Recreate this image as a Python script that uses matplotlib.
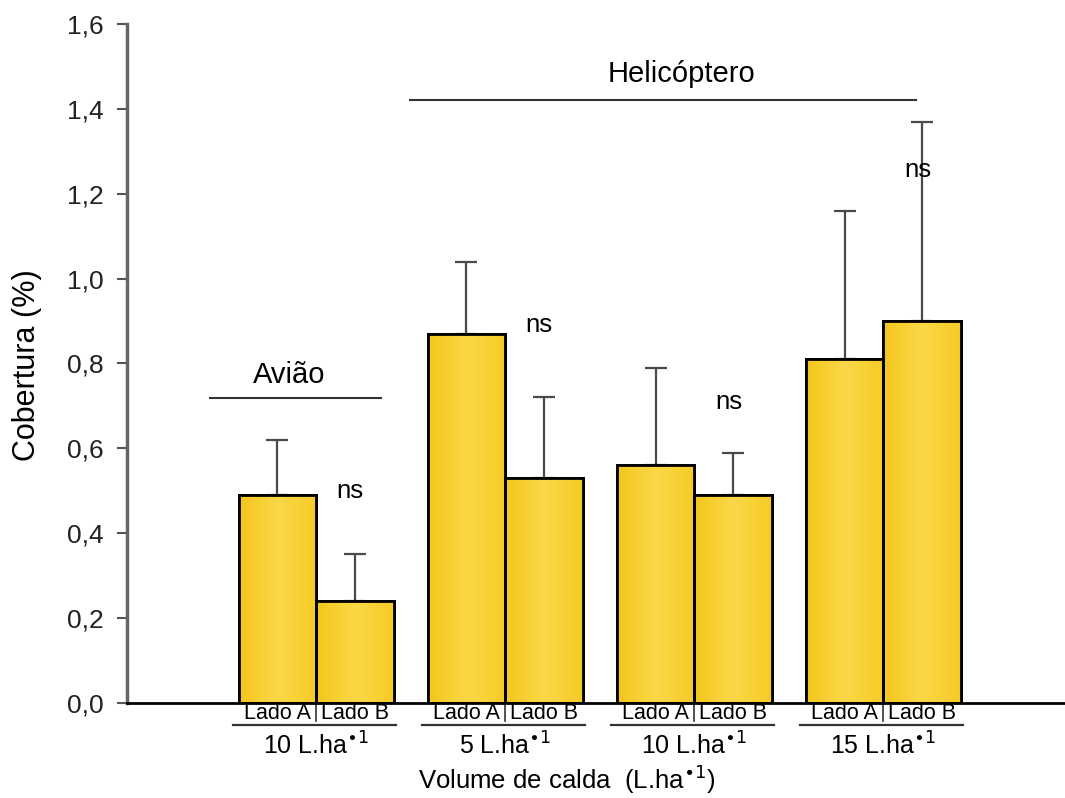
import matplotlib
matplotlib.use("Agg")
import matplotlib.pyplot as plt
import numpy as np
from matplotlib.colors import LinearSegmentedColormap
from matplotlib import font_manager

plt.rcParams['font.family'] = ['Liberation Sans', 'DejaVu Sans']

# treatment groups and sides
doses = [r'10 L.ha$^{\bullet 1}$', r'5 L.ha$^{\bullet 1}$', r'10 L.ha$^{\bullet 1}$', r'15 L.ha$^{\bullet 1}$']
sides = ['Lado A', 'Lado B']

# mean coverage (%) per group, side A then side B
lado_a = [0.49, 0.87, 0.56, 0.81]
lado_b = [0.24, 0.53, 0.49, 0.90]
# upper end of the error bars
top_a = [0.62, 1.04, 0.79, 1.16]
top_b = [0.35, 0.72, 0.59, 1.37]

ns_y = [0.50, 0.89, 0.71, 1.255]

# narrow face for the side labels if available
names = {f.name for f in font_manager.fontManager.ttflist}
if 'Liberation Sans Narrow' in names:
    side_font, side_size = 'Liberation Sans Narrow', 17.5
else:
    side_font, side_size = 'Liberation Sans', 15.5

fig = plt.figure(figsize=(10.65, 7.98), dpi=100)
ax = fig.add_axes([0.1193, 0.119, 0.8807, 0.851])

x = np.arange(len(doses))
w = 0.41
xa = x - w / 2
xb = x + w / 2

err_a = [np.zeros(4), np.array(top_a) - np.array(lado_a)]
err_b = [np.zeros(4), np.array(top_b) - np.array(lado_b)]
ax.errorbar(xa, lado_a, yerr=err_a, fmt='none', ecolor='#4a4a4a', elinewidth=1.6,
            capsize=8, capthick=1.6, zorder=1)
ax.errorbar(xb, lado_b, yerr=err_b, fmt='none', ecolor='#4a4a4a', elinewidth=1.6,
            capsize=8, capthick=1.6, zorder=1)
bars = list(ax.bar(xa, lado_a, width=w, color='#F8CF2C', edgecolor='black', linewidth=2, zorder=2))
bars += list(ax.bar(xb, lado_b, width=w, color='#F8CF2C', edgecolor='black', linewidth=2, zorder=2))

# soft yellow shading inside each bar
shade = LinearSegmentedColormap.from_list('shade', ['#F4C61C', '#FBD848', '#F6CB26'])
grad = np.linspace(0, 1, 64).reshape(1, -1)
for b in bars:
    x0, y0 = b.get_x(), b.get_y()
    im = ax.imshow(grad, cmap=shade, aspect='auto', zorder=2.5,
                   extent=[x0, x0 + b.get_width(), y0, y0 + b.get_height()])
    im.set_clip_path(b)
    edge = plt.Rectangle((x0, y0), b.get_width(), b.get_height(), fill=False,
                         edgecolor='black', linewidth=2, zorder=3)
    ax.add_patch(edge)

ax.set_xlim(-1.0, 3.96)
ax.set_ylim(0, 1.6)
ax.set_yticks(np.arange(0, 1.61, 0.2))
ax.set_yticklabels([f'{v:.1f}'.replace('.', ',') for v in np.arange(0, 1.61, 0.2)],
                   fontsize=19, color='#222222')
ax.set_xticks([])
ax.tick_params(axis='y', direction='out', length=7, width=1.5, color='#555555', pad=10)

for s in ['top', 'right']:
    ax.spines[s].set_visible(False)
ax.spines['left'].set_color('#666666')
ax.spines['left'].set_linewidth(2.5)
ax.spines['bottom'].set_color('black')
ax.spines['bottom'].set_linewidth(2)
ax.spines['bottom'].set_zorder(4)

# side labels, separators and dose labels under each group
for i in range(len(doses)):
    ax.text(xa[i], -0.024, sides[0], ha='center', va='center', fontsize=side_size,
            family=side_font, clip_on=False)
    ax.text(xb[i], -0.024, sides[1], ha='center', va='center', fontsize=side_size,
            family=side_font, clip_on=False)
    ax.plot([x[i], x[i]], [-0.003, -0.042], color='#333333', lw=1.2, clip_on=False)
    ax.plot([x[i] - 0.44, x[i] + 0.42], [-0.052, -0.052], color='#333333', lw=1.6, clip_on=False)
    ax.text(x[i], -0.101, doses[i], ha='center', va='center', fontsize=18, clip_on=False)

for i in range(len(doses)):
    ax.text(x[i] + 0.18, ns_y[i], 'ns', ha='center', va='center', fontsize=18.5)

# aircraft group headers
ax.plot([-0.56, 0.344], [0.718, 0.718], color='#333333', lw=1.5)
ax.text(-0.14, 0.772, 'Avião', ha='center', va='center', fontsize=21)
ax.plot([0.497, 3.17], [1.42, 1.42], color='#333333', lw=1.5)
ax.text(1.93, 1.482, 'Helicóptero', ha='center', va='center', fontsize=21)

ax.set_ylabel('Cobertura (%)', fontsize=22)
ax.yaxis.set_label_coords(-0.091, 0.498)
fig.text(0.532, 0.023, r'Volume de calda  (L.ha$^{\bullet 1}$)', ha='center', va='center', fontsize=18.5)

fig.savefig('out.png', dpi=100)
